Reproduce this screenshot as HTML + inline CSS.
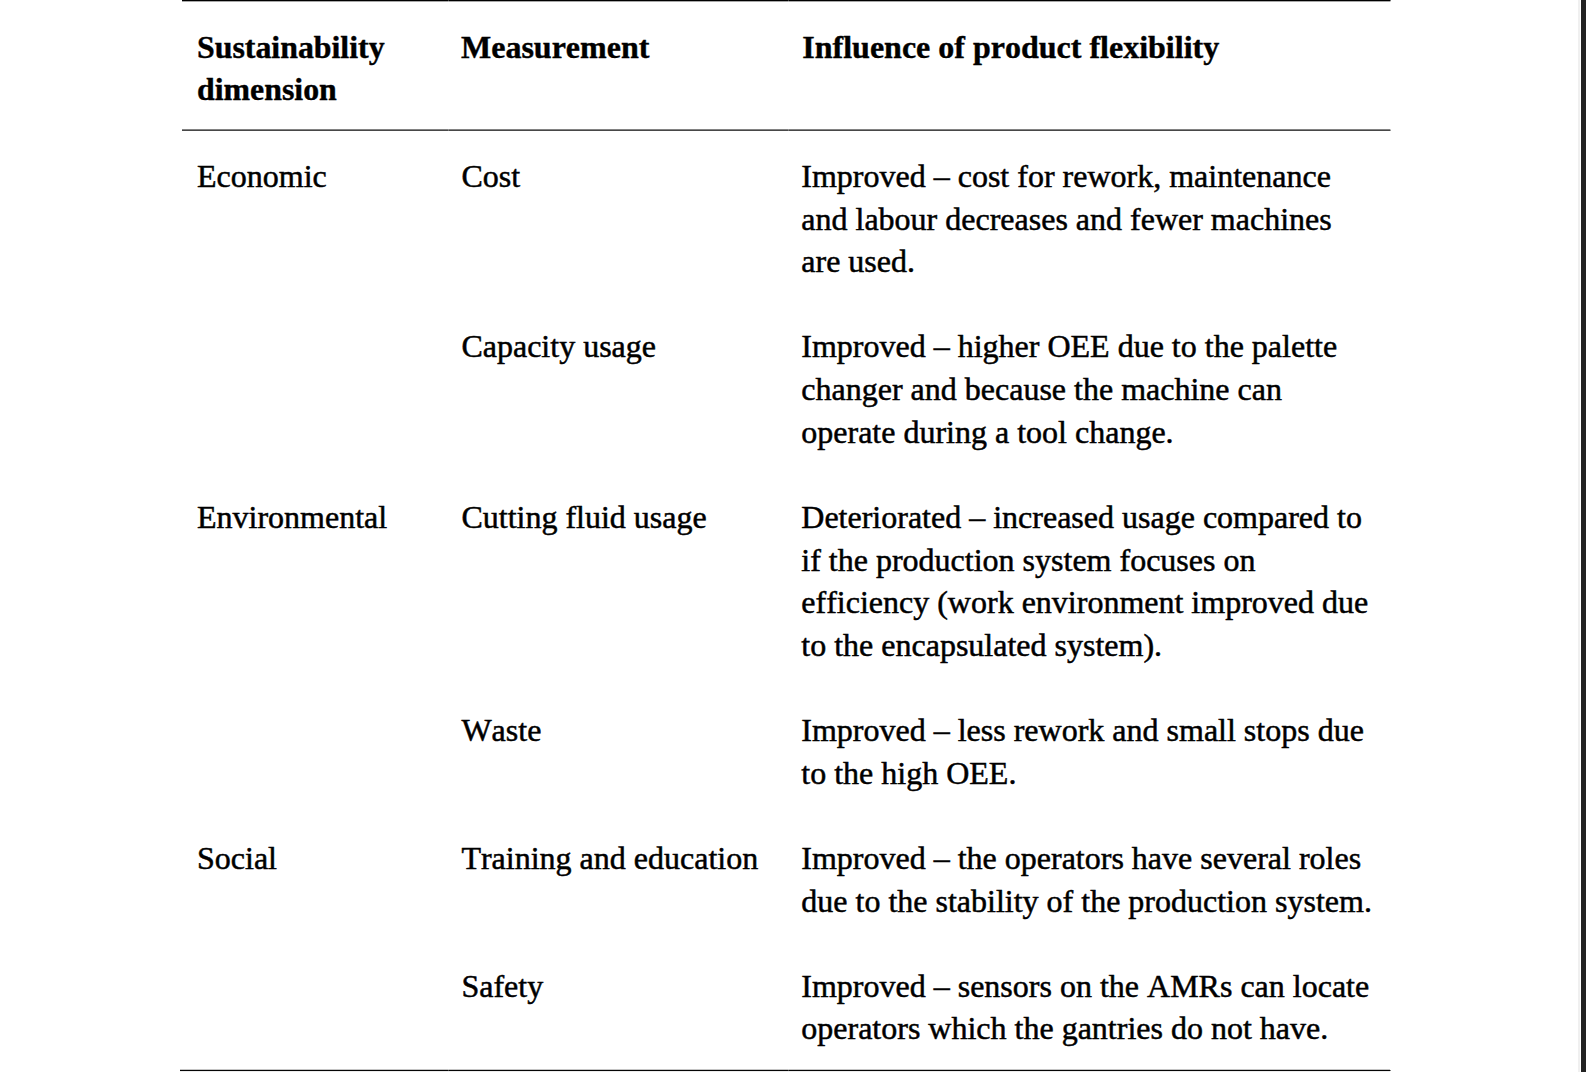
<!DOCTYPE html>
<html lang="en">
<head>
<meta charset="utf-8">
<title>Influence of product flexibility</title>
<style>
html,body{margin:0;padding:0;background:#fff;}
body{width:1586px;height:1072px;position:relative;overflow:hidden;
  font-family:"Liberation Serif","Times New Roman",Times,serif;color:#000;}
.edge-a{position:absolute;left:1578px;top:0;width:2px;height:1072px;background:#f0f0f0;}
.edge-b{position:absolute;left:1581px;top:0;width:1px;height:1072px;background:#222;}
.edge-c{position:absolute;left:1582px;top:0;width:4px;height:1072px;background:#222;}
.rule{position:absolute;left:182px;width:1208px;height:1px;}
.seam{position:absolute;width:1px;height:2px;background:rgba(255,255,255,.22);}
.cap{position:absolute;left:1390px;width:1px;background:rgba(0,0,0,.35);}
table{position:absolute;left:181px;top:0;width:1208px;border-collapse:collapse;table-layout:fixed;
  font-size:32px;line-height:42.62px;font-kerning:none;}
td,th{padding:0 0 0 15.3px;vertical-align:top;text-align:left;white-space:nowrap;font-weight:normal;}
th{font-weight:bold;-webkit-text-stroke:0.4px #000;}
thead th:first-child{font-size:31.85px;}
td:nth-child(-n+2),th:nth-child(-n+2){padding-left:16px;}
thead th:nth-child(3){padding-left:16.3px;}
tbody td:nth-child(2){padding-left:16.4px;}
tbody td{-webkit-text-stroke:0.5px #000;}
col.c1{width:264px}col.c2{width:341px}col.c3{width:603px}
thead th{line-height:41.9px;padding-top:27px;padding-bottom:19.2px;}
tbody td{padding-top:25px;padding-bottom:17.62px;}
</style>
</head>
<body>
<div class="rule" style="top:0;background:#000"></div>
<div class="rule" style="top:1px;background:#a8a8a8"></div>
<div class="rule" style="top:129px;background:#828282"></div>
<div class="rule" style="top:130px;background:#484848"></div>
<div class="rule" style="top:1069px;left:180px;width:1210px;background:#c4c4c4"></div>
<div class="rule" style="top:1070px;left:180px;width:1210px;background:#050505"></div>
<div class="rule" style="top:1071px;left:180px;width:1210px;background:#ececec"></div>
<div class="cap" style="top:0;height:1px;background:rgba(0,0,0,.55)"></div><div class="cap" style="top:1px;height:1px;background:rgba(0,0,0,.15)"></div><div class="cap" style="top:129px;height:1px;background:rgba(0,0,0,.2)"></div><div class="cap" style="top:130px;height:1px;background:rgba(0,0,0,.4)"></div><div class="cap" style="top:1070px;height:1px;background:rgba(0,0,0,.5)"></div>
<div class="seam" style="left:448px;top:0px"></div><div class="seam" style="left:448px;top:129px"></div><div class="seam" style="left:448px;top:1069px"></div><div class="seam" style="left:788px;top:0px"></div><div class="seam" style="left:788px;top:129px"></div><div class="seam" style="left:788px;top:1069px"></div>
<table>
<colgroup><col class="c1"><col class="c2"><col class="c3"></colgroup>
<thead>
<tr><th>Sustainability<br>dimension</th><th>Measurement</th><th>Influence of product flexibility</th></tr>
</thead>
<tbody>
<tr class="r1"><td>Economic</td><td>Cost</td><td>Improved – cost for rework, maintenance<br>and labour decreases and fewer machines<br>are used.</td></tr>
<tr class="r2"><td></td><td>Capacity usage</td><td>Improved – higher OEE due to the palette<br>changer and because the machine can<br>operate during a tool change.</td></tr>
<tr class="r3"><td>Environmental</td><td>Cutting fluid usage</td><td>Deteriorated – increased usage compared to<br>if the production system focuses on<br>efficiency (work environment improved due<br>to the encapsulated system).</td></tr>
<tr class="r4"><td></td><td>Waste</td><td>Improved – less rework and small stops due<br>to the high OEE.</td></tr>
<tr class="r5"><td>Social</td><td>Training and education</td><td>Improved – the operators have several roles<br>due to the stability of the production system.</td></tr>
<tr class="r6"><td></td><td>Safety</td><td>Improved – sensors on the AMRs can locate<br>operators which the gantries do not have.</td></tr>
</tbody>
</table>
<div class="edge-a"></div><div class="edge-b"></div><div class="edge-c"></div>
</body>
</html>
